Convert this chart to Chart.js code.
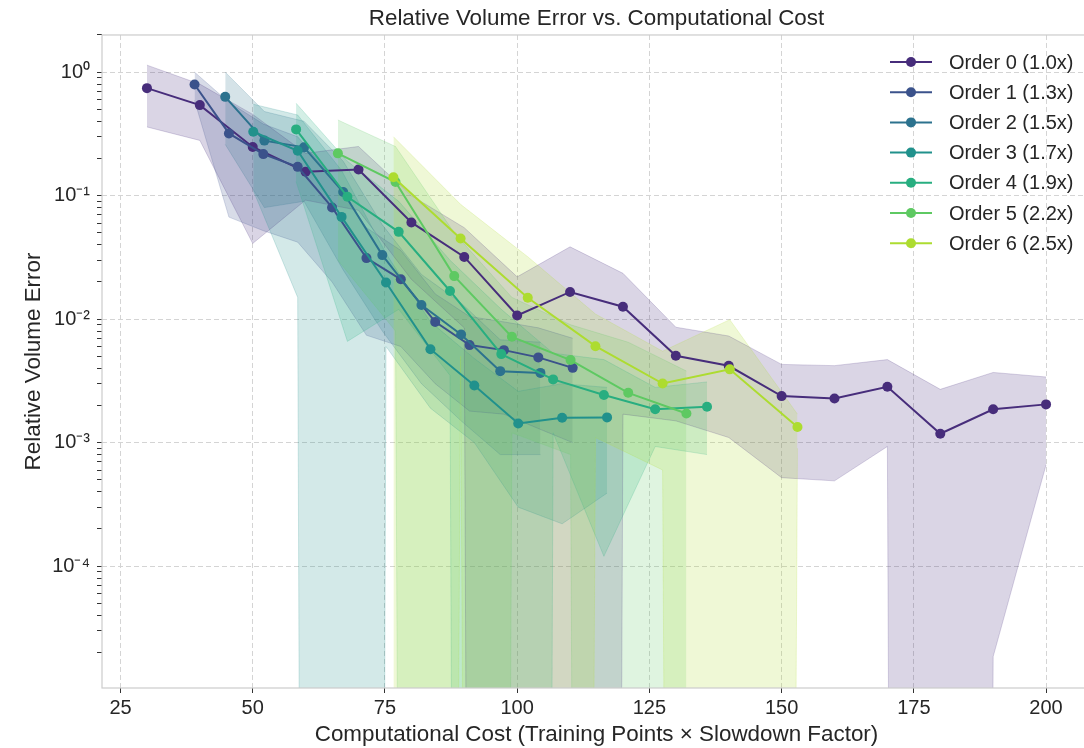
<!DOCTYPE html>
<html>
<head>
<meta charset="utf-8">
<script src="https://cdn.jsdelivr.net/npm/chart.js@4.4.0/dist/chart.umd.min.js"></script>
<style>
  html, body { margin: 0; padding: 0; background: #fff; overflow: hidden; }
  /* the axes run a little past the right edge of the picture, so the canvas is wider and clipped */
  #wrap { width: 1084px; height: 748px; overflow: hidden; }
  #costChart { display: block; }
</style>
</head>
<body>
<div id="wrap"><canvas id="costChart" width="1096" height="748"></canvas></div>
<script>
// series labels + colours (viridis)
const seriesLabels = ['Order 0 (1.0x)', 'Order 1 (1.3x)', 'Order 2 (1.5x)', 'Order 3 (1.7x)',
                      'Order 4 (1.9x)', 'Order 5 (2.2x)', 'Order 6 (2.5x)'];
const seriesColors = ['#472d7b', '#3b528b', '#2c728e', '#21918c', '#28ae80', '#5ec962', '#addc30'];

const xTicks = [25, 50, 75, 100, 125, 150, 175, 200];
const yMajorTicks = [1e-4, 1e-3, 1e-2, 1e-1, 1];

// computational cost (x) per order
const cost = [
  [30, 40, 50, 60, 70, 80, 90, 100, 110, 120, 130, 140, 150, 160, 170, 180, 190, 200],
  [39, 45.5, 52, 58.5, 65, 71.5, 78, 84.5, 91, 97.5, 104, 110.5],
  [44.8, 52.2, 59.7, 67.1, 74.5, 81.9, 89.4, 96.8, 104.4],
  [50.1, 58.5, 66.8, 75.2, 83.6, 91.9, 100.2, 108.5, 117],
  [58.2, 67.9, 77.6, 87.3, 97.0, 106.8, 116.4, 126.1, 135.9],
  [66.1, 77, 88.1, 99, 110.1, 121, 132],
  [76.6, 89.3, 102, 114.8, 127.5, 140.2, 153]
];

// mean relative volume error
const meanErr = [
  [0.742, 0.541, 0.248, 0.156, 0.163, 0.0607, 0.0319, 0.0107, 0.0166, 0.0126, 0.00505, 0.00419, 0.00238, 0.00228, 0.00283, 0.00118, 0.00186, 0.00204],
  [0.795, 0.319, 0.217, 0.171, 0.0802, 0.0312, 0.0210, 0.0095, 0.00616, 0.00561, 0.00490, 0.00403],
  [0.631, 0.279, 0.246, 0.107, 0.033, 0.0130, 0.00752, 0.00379, 0.00367],
  [0.329, 0.231, 0.0673, 0.0198, 0.00571, 0.0029, 0.00143, 0.00159, 0.0016],
  [0.344, 0.0978, 0.0509, 0.0169, 0.00521, 0.00325, 0.00243, 0.00186, 0.00195],
  [0.220, 0.129, 0.0223, 0.00719, 0.00466, 0.00253, 0.00172],
  [0.141, 0.045, 0.0149, 0.00604, 0.00301, 0.00392, 0.00134]
];

// upper edge of shaded band
const upperErr = [
  [1.14, 0.80, 0.455, 0.22, 0.25, 0.10, 0.055, 0.022, 0.0385, 0.0235, 0.0086, 0.0073, 0.0043, 0.0042, 0.0047, 0.0027, 0.0037, 0.0034],
  [1.0, 0.57, 0.38, 0.30, 0.14, 0.055, 0.036, 0.016, 0.0105, 0.0095, 0.0085, 0.007],
  [1.0, 0.48, 0.40, 0.19, 0.058, 0.023, 0.0135, 0.0068, 0.0065],
  [0.55, 0.45, 0.16, 0.034, 0.0095, 0.0048, 0.0026, 0.0030, 0.0028],
  [0.56, 0.19, 0.09, 0.030, 0.012, 0.0053, 0.0047, 0.0028, 0.0031],
  [0.41, 0.25, 0.05, 0.015, 0.009, 0.0065, 0.0038],
  [0.30, 0.085, 0.032, 0.011, 0.0055, 0.0099, 0.0017]
];

// lower edge of shaded band (0 = band dips below zero)
const lowerErr = [
  [0.36, 0.28, 0.041, 0.092, 0.076, 0.021, 0.0085, 0, 0, 0.0017, 0.0015, 0.0011, 0.00052, 0.00049, 0.00093, 0, 0.0000185, 0.00066],
  [0.59, 0.067, 0.052, 0.042, 0.02, 0.0074, 0.006, 0.003, 0.0018, 0.0017, 0.0013, 0.001],
  [0.26, 0.08, 0.09, 0.025, 0.008, 0.003, 0.0015, 0.0008, 0.0008],
  [0.11, 0.015, 0, 0.006, 0.0019, 0.001, 0.0003, 0.00022, 0.00039],
  [0.13, 0.0066, 0.012, 0.0035, 0, 0.0012, 0.00012, 0.00093, 0.0008],
  [0.03, 0.008, 0, 0.0012, 0.0008, 0, 0],
  [0, 0.005, 0, 0.0011, 0.0006, 0, 0.0009]
];

function rgba(hex, a) {
  const n = parseInt(hex.slice(1), 16);
  return 'rgba(' + (n >> 16) + ',' + ((n >> 8) & 255) + ',' + (n & 255) + ',' + a + ')';
}
// like matplotlib's log axis: non-positive values are clipped far below the axis
const clipLog = v => (v > 0 ? v : 1e-100);

const datasets = [];
cost.forEach((xs, i) => {
  const col = seriesColors[i];
  datasets.push({
    label: seriesLabels[i],
    data: xs.map((x, j) => ({ x: x, y: meanErr[i][j] })),
    borderColor: col,
    backgroundColor: col,
    borderWidth: 2,
    pointRadius: 5,
    pointHoverRadius: 5,
    pointBackgroundColor: col,
    pointBorderWidth: 0,
    fill: false,
    order: 6 - i
  });
});
cost.forEach((xs, i) => {
  const col = seriesColors[i];
  datasets.push({
    label: 'band-hi-' + i,
    data: xs.map((x, j) => ({ x: x, y: upperErr[i][j] })),
    borderColor: rgba(col, 0.2),
    backgroundColor: rgba(col, 0.2),
    borderWidth: 1,
    pointRadius: 0,
    fill: '+1',
    order: 20 - i
  });
  datasets.push({
    label: 'band-lo-' + i,
    data: xs.map((x, j) => ({ x: x, y: clipLog(lowerErr[i][j]) })),
    borderColor: rgba(col, 0.2),
    borderWidth: 1,
    pointRadius: 0,
    fill: false,
    order: 20 - i
  });
});

const supers = { '0': '\u2070', '1': '\u00b9', '2': '\u00b2', '3': '\u00b3', '4': '\u2074', '5': '\u2075', '-': '\u207b' };
function isMajor(v) {
  return yMajorTicks.some(t => Math.abs(v / t - 1) < 1e-6);
}
function powLabel(v) {
  const e = String(Math.round(Math.log10(v)));
  return '10' + e.split('').map(c => supers[c]).join('');
}

const legendPlugin = {
  id: 'sideLegend',
  afterDraw(chart) {
    const ctx = chart.ctx;
    ctx.save();
    ctx.font = '20px "Liberation Sans", Arial, sans-serif';
    ctx.textBaseline = 'middle';
    seriesLabels.forEach((lab, i) => {
      const y = 62 + i * 30.2;
      ctx.strokeStyle = seriesColors[i];
      ctx.lineWidth = 2;
      ctx.beginPath();
      ctx.moveTo(890, y);
      ctx.lineTo(932, y);
      ctx.stroke();
      ctx.fillStyle = seriesColors[i];
      ctx.beginPath();
      ctx.arc(911, y, 5, 0, Math.PI * 2);
      ctx.fill();
      ctx.fillStyle = '#262626';
      ctx.fillText(lab, 949, y + 1);
    });
    ctx.restore();
  }
};

const framePlugin = {
  id: 'frame',
  afterDatasetsDraw(chart) {
    const a = chart.chartArea;
    const ctx = chart.ctx;
    ctx.save();
    ctx.strokeStyle = '#cccccc';
    ctx.lineWidth = 1.2;
    ctx.strokeRect(a.left, a.top, a.right - a.left, a.bottom - a.top);
    ctx.restore();
  }
};

const font = '"Liberation Sans", Arial, sans-serif';

new Chart(document.getElementById('costChart'), {
  type: 'line',
  data: { datasets: datasets },
  options: {
    responsive: false,
    animation: false,
    devicePixelRatio: 1,
    layout: { padding: { left: 0, right: 0, top: 0, bottom: 0 } },
    elements: { line: { tension: 0 } },
    plugins: {
      legend: { display: false },
      tooltip: { enabled: false },
      filler: { drawTime: 'beforeDatasetsDraw' },
      title: {
        display: true,
        fullSize: false,
        text: 'Relative Volume Error vs. Computational Cost',
        color: '#262626',
        font: { family: font, size: 22.4, weight: 'normal' },
        padding: { top: 5, bottom: 3.1 }
      }
    },
    scales: {
      x: {
        type: 'linear',
        min: 21.5,
        max: 208.5,
        afterBuildTicks: s => { s.ticks = xTicks.map(v => ({ value: v })); },
        afterFit: s => { s.height = 60; },
        grid: { color: '#d4d4d4', lineWidth: 1, tickColor: '#333', tickLength: 5, drawTicks: true },
        border: { display: false, dash: [5, 3] },
        ticks: { color: '#262626', font: { family: font, size: 20 }, padding: 3, autoSkip: false, maxRotation: 0 },
        title: {
          display: true,
          text: 'Computational Cost (Training Points \u00d7 Slowdown Factor)',
          color: '#262626',
          font: { family: font, size: 22.4 },
          padding: { top: 0, bottom: 0 }
        }
      },
      y: {
        type: 'logarithmic',
        min: 1.03e-5,
        max: 2.0,
        afterBuildTicks: s => {
          const t = [];
          for (let e = -5; e <= 0; e++) {
            for (let k = 1; k <= 9; k++) {
              const v = k * Math.pow(10, e);
              if (v >= s.min && v <= s.max) t.push({ value: v });
            }
          }
          s.ticks = t;
        },
        afterFit: s => { s.width = 102; },
        grid: {
          color: c => (c.tick && isMajor(c.tick.value) ? '#d4d4d4' : 'rgba(0,0,0,0)'),
          lineWidth: 1,
          tickColor: '#333',
          tickLength: 5,
          drawTicks: true
        },
        border: { display: false, dash: [5, 3] },
        ticks: {
          color: '#262626',
          font: { family: font, size: 20 },
          padding: 7,
          autoSkip: false,
          callback: v => (isMajor(v) ? powLabel(v) : '')
        },
        title: {
          display: true,
          text: 'Relative Volume Error',
          color: '#262626',
          font: { family: font, size: 22.4 },
          padding: { top: 20, bottom: 0 }
        }
      }
    }
  },
  plugins: [legendPlugin, framePlugin]
});
</script>
</body>
</html>
